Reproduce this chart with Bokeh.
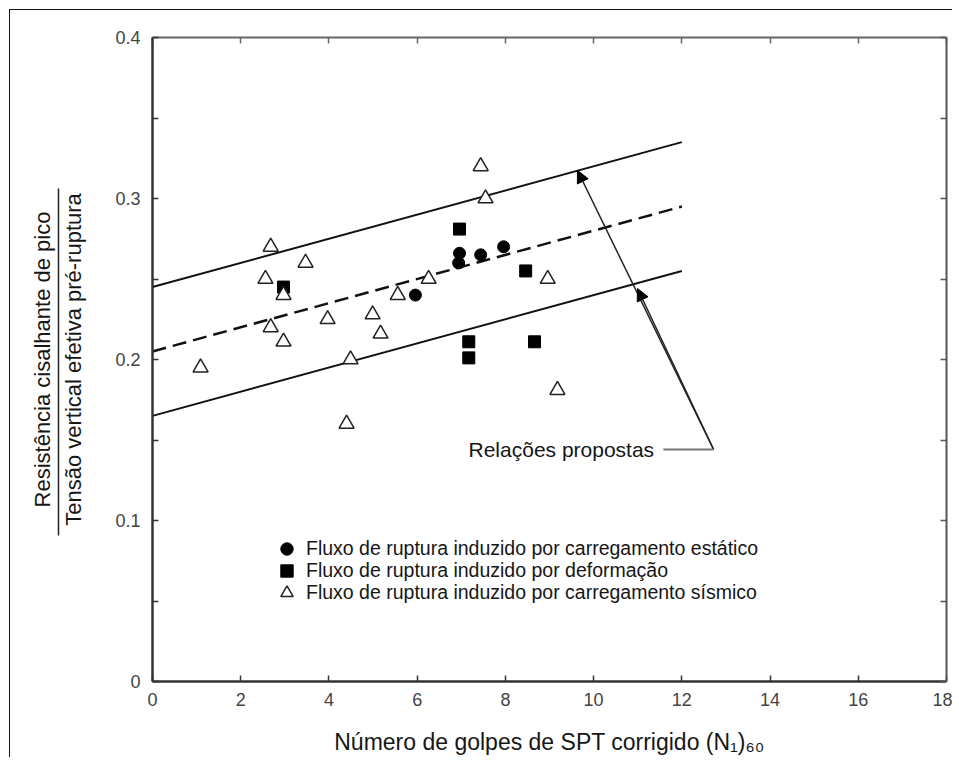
from bokeh.plotting import figure
from bokeh.models import (Range1d, LinearAxis, FixedTicker, Label, Arrow, NormalHead,
                          Legend, LegendItem)
from bokeh.embed import file_html
from bokeh.resources import INLINE

# ---------------- data ----------------
static_x = [5.96, 6.96, 6.94, 7.44, 7.96]
static_y = [0.240, 0.266, 0.260, 0.265, 0.270]

deform_x = [2.97, 6.96, 8.46, 7.17, 7.17, 8.66]
deform_y = [0.245, 0.281, 0.255, 0.211, 0.201, 0.211]

seismic_x = [1.09, 2.68, 2.56, 2.97, 3.47, 2.68, 2.97, 3.97, 4.99, 5.17, 4.49, 4.40,
             5.56, 6.26, 7.44, 7.55, 8.96, 9.18]
seismic_y = [0.195, 0.270, 0.250, 0.240, 0.260, 0.220, 0.211, 0.225, 0.228, 0.216, 0.200, 0.160,
             0.240, 0.250, 0.320, 0.300, 0.250, 0.181]

line_x = [0, 12]
upper_y = [0.245, 0.335]
middle_y = [0.205, 0.295]
lower_y = [0.165, 0.255]

x_ticks = [0, 2, 4, 6, 8, 10, 12, 14, 16, 18]
y_ticks = [0, 0.1, 0.2, 0.3, 0.4]
y_minor = [0.05, 0.15, 0.25, 0.35]
y_tick_labels = ["0", "0.1", "0.2", "0.3", "0.4"]

legend_labels = ["Fluxo de ruptura induzido por carregamento estático",
                 "Fluxo de ruptura induzido por deformação",
                 "Fluxo de ruptura induzido por carregamento sísmico"]
ylabel_top = "Resistência cisalhante de pico"
ylabel_bottom = "Tensão vertical efetiva pré-ruptura"
xlabel = "Número de golpes de SPT corrigido (N₁)₆₀"
annot_text = "Relações propostas"

FONT = "Liberation Sans"
TXT = "#161616"

p = figure(frame_width=794, frame_height=644, x_range=Range1d(0, 18), y_range=Range1d(0, 0.4),
           output_backend="svg", toolbar_location=None,
           min_border_left=142, min_border_right=6, min_border_top=27, min_border_bottom=76)
p.margin = (9, 0, 0, 9)
p.styles = {"border-left": "1.5px solid #111111", "border-top": "1.5px solid #111111"}
p.outline_line_color = None
p.xgrid.visible = False
p.ygrid.visible = False
p.background_fill_color = "white"
p.border_fill_color = "white"

def style_axis(ax, color, width):
    ax.axis_line_color = color
    ax.axis_line_width = width
    ax.major_tick_in = 6
    ax.major_tick_out = 0
    ax.minor_tick_in = 6
    ax.minor_tick_out = 0
    ax.major_tick_line_color = color
    ax.minor_tick_line_color = color
    ax.major_tick_line_width = 1.5
    ax.minor_tick_line_width = 1.5
    ax.major_label_text_font = FONT
    ax.major_label_text_font_size = "18px"
    ax.major_label_text_color = "#444444"
    ax.major_label_standoff = 12

def label_style(ax, text, size, standoff):
    ax.axis_label = text
    ax.axis_label_text_font = FONT
    ax.axis_label_text_font_size = size
    ax.axis_label_text_font_style = "normal"
    ax.axis_label_text_color = TXT
    ax.axis_label_standoff = standoff

# left (main) : ticks, tick labels and the denominator of the y label
yl = p.yaxis[0]
yl.ticker = FixedTicker(ticks=y_ticks, minor_ticks=y_minor)
yl.major_label_overrides = {t: l for t, l in zip(y_ticks, y_tick_labels)}
style_axis(yl, "#333333", 2.5)
label_style(yl, ylabel_bottom, "22px", 26)

# fraction bar (axis line with bounds) and numerator of the y label
ax_num = LinearAxis(ticker=FixedTicker(ticks=[], minor_ticks=[]), bounds=(0.0907, 0.3062))
ax_num.axis_line_color = "#222222"
ax_num.axis_line_width = 1.5
ax_num.major_tick_in = 0
ax_num.major_tick_out = 0
ax_num.minor_tick_in = 0
ax_num.minor_tick_out = 0
ax_num.major_label_standoff = 0
label_style(ax_num, ylabel_top, "22px", 4)
p.add_layout(ax_num, "left")

# bottom
xb = p.xaxis[0]
xb.ticker = FixedTicker(ticks=x_ticks, minor_ticks=[])
style_axis(xb, "#333333", 2.5)
xb.major_label_standoff = 11
label_style(xb, xlabel, "23px", 20)

# right
yr = LinearAxis(ticker=FixedTicker(ticks=y_ticks, minor_ticks=y_minor))
style_axis(yr, "#555555", 2)
yr.major_label_overrides = {t: "" for t in y_ticks}
p.add_layout(yr, "right")
# top
xt = LinearAxis(ticker=FixedTicker(ticks=x_ticks, minor_ticks=[]))
style_axis(xt, "#666666", 2)
xt.major_label_overrides = {t: "" for t in x_ticks}
p.add_layout(xt, "above")

# lines
p.line(line_x, upper_y, line_color="#111111", line_width=2)
p.line(line_x, middle_y, line_color="#111111", line_width=2.5, line_dash="14 7")
p.line(line_x, lower_y, line_color="#111111", line_width=2)

# points
r_static = p.scatter(static_x, static_y, marker="circle", size=12, color="black")
r_deform = p.scatter(deform_x, deform_y, marker="square", size=12, color="black")
r_seis = p.scatter(seismic_x, seismic_y, marker="triangle", size=15, fill_color="white",
                   line_color="#222222", line_width=1.5)

# legend: one single-row legend per series, stacked 22 px apart
for i, (lab, rend) in enumerate(zip(legend_labels, [r_static, r_deform, r_seis])):
    lg = Legend(items=[LegendItem(label=lab, renderers=[rend])],
                location=(119, 117.5 - 22 * i), padding=0, margin=0, spacing=0,
                glyph_width=31, glyph_height=31, label_height=20, label_standoff=4,
                label_text_font=FONT, label_text_font_size="19.5px", label_text_color=TXT,
                border_line_color=None, background_fill_alpha=0)
    p.add_layout(lg)

# annotation arrow
ax0, ay0 = 12.72, 0.1441
p.add_layout(Arrow(end=NormalHead(size=12, fill_color="black", line_color="black", line_width=1),
                   x_start=ax0, y_start=ay0, x_end=9.635, y_end=0.3174,
                   line_color="#222222", line_width=1.5))
p.add_layout(Arrow(end=NormalHead(size=12, fill_color="black", line_color="black", line_width=1),
                   x_start=ax0, y_start=ay0, x_end=10.995, y_end=0.2441,
                   line_color="#222222", line_width=1.5))
p.add_layout(Arrow(end=None, x_start=11.58, y_start=ay0, x_end=ax0, y_end=ay0,
                   line_color="#777777", line_width=2))
p.add_layout(Label(x=7.164, y=ay0, text=annot_text, text_font=FONT, text_font_size="21px",
                   text_color=TXT, text_baseline="middle", text_align="left"))

open("out.html", "w").write(file_html(p, INLINE))
